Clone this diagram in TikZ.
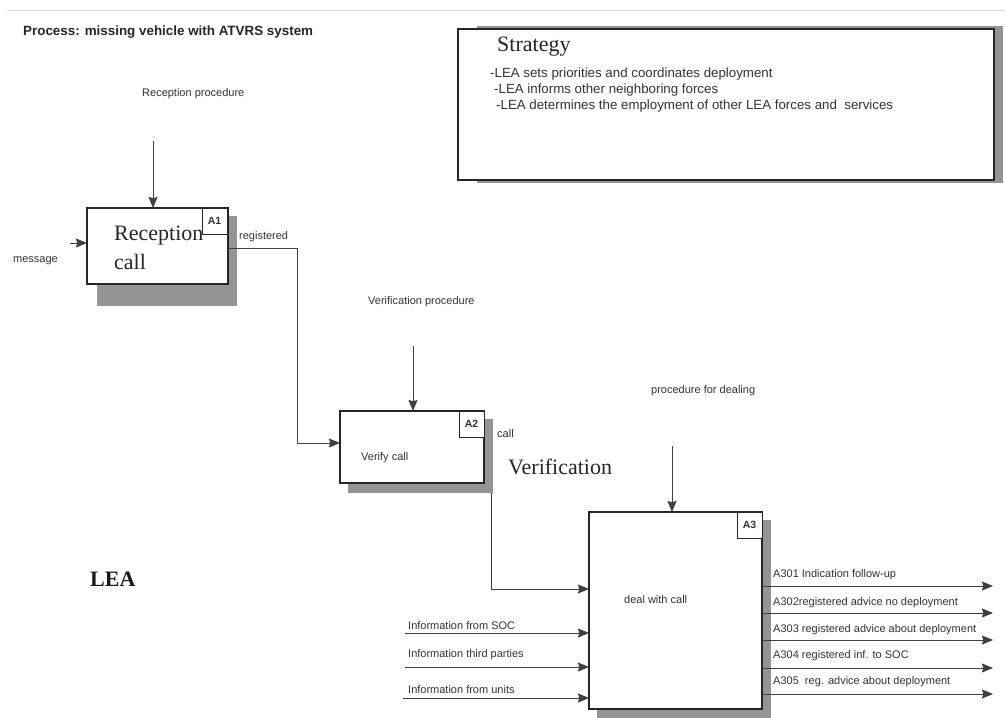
\documentclass[tikz,border=0pt]{standalone}
\usepackage{fontspec}
\setmainfont{Liberation Serif}
\setsansfont{Liberation Sans}
\usetikzlibrary{arrows.meta}
\begin{document}
\begin{tikzpicture}[x=1pt,y=-1pt,
  lbl/.style={font=\sffamily\fontsize{11}{13}\selectfont, text=black!80, inner sep=0pt, anchor=base west},
  stxt/.style={font=\sffamily\fontsize{13.3}{15}\selectfont, text=black!80, inner sep=0pt, anchor=base west},
  big/.style={font=\rmfamily\fontsize{22}{24}\selectfont, text=black!85, inner sep=0pt, anchor=base west},
  shadowbox/.style={fill=black!42, draw=none},
  actbox/.style={draw=black!85, line width=1.3pt, fill=white, anchor=north west, inner sep=0pt, outer sep=0pt},
  tagbox/.style={draw=black!85, line width=1pt, fill=white, anchor=north west, inner sep=0pt, outer sep=0pt, minimum width=25pt, minimum height=26pt, font=\sffamily\bfseries\fontsize{10.5}{12}\selectfont, text=black!80},
  arr/.style={draw=black!75, line width=0.9pt, -{Stealth[length=11pt,width=9pt,inset=1.2pt]}},
  wire/.style={draw=black!75, line width=0.9pt}
]
\useasboundingbox (0,0) rectangle (1005,718);
\fill[white] (0,0) rectangle (1005,718);
\draw[black!15, line width=0.8pt] (7,10) -- (1005,10);

% title
\node[font=\sffamily\bfseries\fontsize{13.4}{15}\selectfont, text=black!85, inner sep=0pt, anchor=base west] (title) at (23,35) {Process: missing vehicle with ATVRS system};

% strategy box
\fill[shadowbox] (477,26) rectangle (1003,183);
\node[actbox, line width=1.2pt, minimum width=536pt, minimum height=151pt] (strat) at (458,29) {};
\node[big] (stratT) at (497,51) {Strategy};
\node[stxt] (s1) at (490,77) {-LEA sets priorities and coordinates deployment};
\node[stxt] (s2) at (494,93) {-LEA informs other neighboring forces};
\node[stxt] (s3) at (496,109) {-LEA determines the employment of other LEA forces and\ \ services};

% A1
\fill[shadowbox] (97,216) rectangle (237,306);
\node[actbox, minimum width=141pt, minimum height=76pt] (a1) at (87,208) {};
\node[big] (a1t1) at (114,240) {Reception};
\node[big] (a1t2) at (114,269) {call};
\node[tagbox] (a1tag) at (202,208) {A1};

% A2
\fill[shadowbox] (348,419) rectangle (493,493);
\node[actbox, minimum width=144pt, minimum height=72pt] (a2) at (340,411) {};
\node[lbl] (a2t) at (361,460) {Verify call};
\node[tagbox] (a2tag) at (459,411) {A2};

% A3
\fill[shadowbox] (597,520) rectangle (771,718);
\node[actbox, minimum width=173pt, minimum height=197pt] (a3) at (589,512) {};
\node[lbl] (a3t) at (624,603) {deal with call};
\node[tagbox] (a3tag) at (737,512) {A3};

% labels
\node[lbl] (rp) at (142,96) {Reception procedure};
\node[lbl] (msg) at (13,262) {message};
\node[lbl] (reg) at (239,239) {registered};
\node[lbl] (vp) at (368,304) {Verification procedure};
\node[lbl] (callL) at (497,437) {call};
\node[big] (verif) at (508,474) {Verification};
\node[lbl] (pfd) at (651,393) {procedure for dealing};
\node[font=\rmfamily\bfseries\fontsize{22}{24}\selectfont, text=black!90, inner sep=0pt, anchor=base west] (lea) at (90,586) {LEA};

% connectors
\coordinate (rpS) at (153,141);
\draw[arr] (rpS) -- (rpS |- a1.north);
\coordinate (msgS) at (70,243);
\draw[arr] (msgS) -- (msgS -| a1.west);
\coordinate (regS) at (228,248);
\coordinate (regB1) at (297,248);
\coordinate (regB2) at (297,443);
\draw[arr] (regS -| a1.east) -- (regB1) -- (regB2) -- (regB2 -| a2.west);
\coordinate (vpS) at (413,346);
\draw[arr] (vpS) -- (vpS |- a2.north);
\coordinate (a2out) at (491,493);
\coordinate (a2B) at (491,589);
\draw[arr] (a2out) -- (a2B) -- (a2B -| a3.west);
\coordinate (pfdS) at (672,446);
\draw[arr] (pfdS) -- (pfdS |- a3.north);

% inputs
\node[lbl] (in1) at (408,629) {Information from SOC};
\node[lbl] (in2) at (408,657) {Information third parties};
\node[lbl] (in3) at (408,693) {Information from units};
\coordinate (i1) at (405,633);
\coordinate (i2) at (405,667);
\coordinate (i3) at (403,698);
\draw[arr] (i1) -- (i1 -| a3.west);
\draw[arr] (i2) -- (i2 -| a3.west);
\draw[arr] (i3) -- (i3 -| a3.west);

% outputs
\node[lbl] (o1) at (773,577) {A301 Indication follow-up};
\node[lbl] (o2) at (773,605) {A302registered advice no deployment};
\node[lbl] (o3) at (773,632) {A303 registered advice about deployment};
\node[lbl] (o4) at (773,658) {A304 registered inf. to SOC};
\node[lbl] (o5) at (773,684) {A305\ \ reg. advice about deployment};
\coordinate (e1) at (993,586);
\coordinate (e2) at (993,613);
\coordinate (e3) at (993,640);
\coordinate (e4) at (993,668);
\coordinate (e5) at (993,694);
\draw[arr] (e1 -| a3.east) -- (e1);
\draw[arr] (e2 -| a3.east) -- (e2);
\draw[arr] (e3 -| a3.east) -- (e3);
\draw[arr] (e4 -| a3.east) -- (e4);
\draw[arr] (e5 -| a3.east) -- (e5);
\end{tikzpicture}
\end{document}
